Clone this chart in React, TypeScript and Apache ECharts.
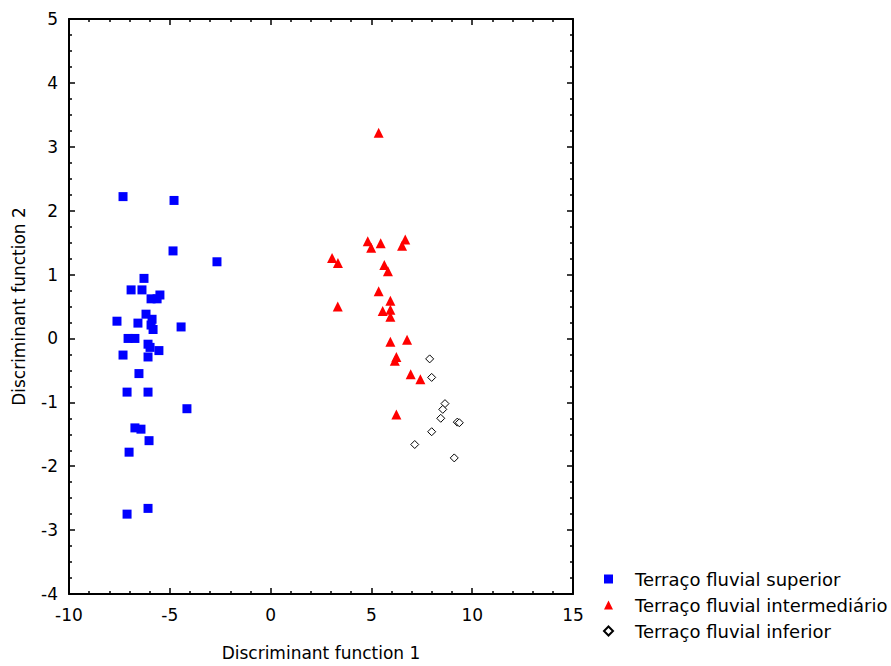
import React, { useEffect, useRef } from "react";
import * as echarts from "echarts";

const seriesNames = [
  "Terraço fluvial superior",
  "Terraço fluvial intermediário",
  "Terraço fluvial inferior",
];

const superiorX = [-7.32, -4.79, -4.84, -2.66, -6.28, -6.92, -6.38, -5.93, -5.49, -5.63, -7.62, -6.58, -6.18, -5.88, -5.93, -5.83, -4.44, -7.07, -6.73, -6.08, -5.98, -5.54, -7.32, -6.08, -6.53, -7.12, -6.08, -4.15, -6.73, -6.43, -6.03, -7.02, -6.08, -7.12];
const superiorY = [2.22, 2.16, 1.37, 1.20, 0.94, 0.76, 0.76, 0.62, 0.68, 0.62, 0.27, 0.24, 0.38, 0.30, 0.21, 0.14, 0.18, 0.0, 0.0, -0.09, -0.14, -0.19, -0.26, -0.29, -0.55, -0.84, -0.84, -1.10, -1.40, -1.42, -1.60, -1.78, -2.66, -2.75];

const intermX = [5.36, 4.82, 4.99, 5.46, 6.68, 6.52, 3.05, 3.34, 5.64, 5.82, 5.36, 5.94, 3.33, 5.56, 5.94, 5.94, 5.94, 6.77, 6.24, 6.16, 6.95, 7.43, 6.24];
const intermY = [3.22, 1.52, 1.42, 1.49, 1.55, 1.45, 1.26, 1.18, 1.15, 1.05, 0.74, 0.59, 0.50, 0.43, 0.45, 0.34, -0.05, -0.02, -0.29, -0.35, -0.56, -0.64, -1.19];

const inferiorX = [7.89, 7.99, 8.65, 8.54, 8.44, 9.26, 9.36, 7.99, 7.15, 9.11];
const inferiorY = [-0.32, -0.61, -1.02, -1.11, -1.25, -1.31, -1.32, -1.46, -1.66, -1.87];

const xTitle = "Discriminant function 1";
const yTitle = "Discriminant function 2";

const zip = (xs: number[], ys: number[]) => xs.map((x, i) => [x, ys[i]]);

const FONT = "DejaVu Sans, sans-serif";

export default function App() {
  const ref = useRef<HTMLDivElement>(null);
  useEffect(() => {
    if (!ref.current) return;
    const chart = echarts.init(ref.current, undefined, { renderer: "svg" });
    const axisLine = { show: true, onZero: false, lineStyle: { color: "#000", width: 2 } };
    const axisTick = { show: true, inside: true, length: 6, lineStyle: { color: "#000", width: 1.5 } };
    const minor = { show: true, length: 3, lineStyle: { color: "#000", width: 1.5 } };
    chart.setOption({
      animation: false,
      backgroundColor: "#fff",
      textStyle: { fontFamily: FONT },
      grid: { left: 69, top: 19, width: 504, height: 578, containLabel: false },
      legend: {
        orient: "vertical",
        left: 598,
        top: 565,
        itemWidth: 9,
        itemHeight: 9,
        itemGap: 8,
        textStyle: { fontSize: 18, lineHeight: 18, color: "#000", fontFamily: FONT, padding: [0, 0, 0, 17] },
        data: seriesNames,
      },
      xAxis: [
        {
          type: "value",
          min: -10,
          max: 15,
          interval: 5,
          minorTick: { ...minor, splitNumber: 5 },
          axisLine,
          axisTick,
          splitLine: { show: false },
          axisLabel: { color: "#000", fontSize: 17, margin: 12, fontFamily: FONT },
          name: xTitle,
          nameLocation: "middle",
          nameGap: 50,
          nameTextStyle: { color: "#000", fontSize: 17, fontFamily: FONT },
        },
        {
          type: "value",
          position: "top",
          min: -10,
          max: 15,
          interval: 5,
          minorTick: { ...minor, splitNumber: 5 },
          axisLine,
          axisTick,
          splitLine: { show: false },
          axisLabel: { show: false },
        },
      ],
      yAxis: [
        {
          type: "value",
          min: -4,
          max: 5,
          interval: 1,
          minorTick: { ...minor, splitNumber: 4 },
          axisLine,
          axisTick,
          splitLine: { show: false },
          axisLabel: { color: "#000", fontSize: 17, margin: 11, fontFamily: FONT },
          name: yTitle,
          nameLocation: "middle",
          nameGap: 42,
          nameRotate: 90,
          nameTextStyle: { color: "#000", fontSize: 17, fontFamily: FONT },
        },
        {
          type: "value",
          position: "right",
          min: -4,
          max: 5,
          interval: 1,
          minorTick: { ...minor, splitNumber: 4 },
          axisLine,
          axisTick,
          splitLine: { show: false },
          axisLabel: { show: false },
        },
      ],
      series: [
        {
          name: seriesNames[0],
          type: "scatter",
          symbol: "rect",
          symbolSize: 9,
          itemStyle: { color: "#0000ff", opacity: 1 },
          data: zip(superiorX, superiorY),
        },
        {
          name: seriesNames[1],
          type: "scatter",
          symbol: "triangle",
          symbolSize: 10,
          itemStyle: { color: "#ff0000", opacity: 1 },
          data: zip(intermX, intermY),
        },
        {
          name: seriesNames[2],
          type: "scatter",
          symbol: "diamond",
          symbolSize: 8,
          itemStyle: { color: "#ffffff", borderColor: "#000", borderWidth: 1, opacity: 1 },
          data: zip(inferiorX, inferiorY),
        },
      ],
    });
    return () => chart.dispose();
  }, []);
  return (
    <div
      ref={ref}
      style={{ position: "fixed", left: 0, top: 0, width: 891, height: 666 }}
    />
  );
}
